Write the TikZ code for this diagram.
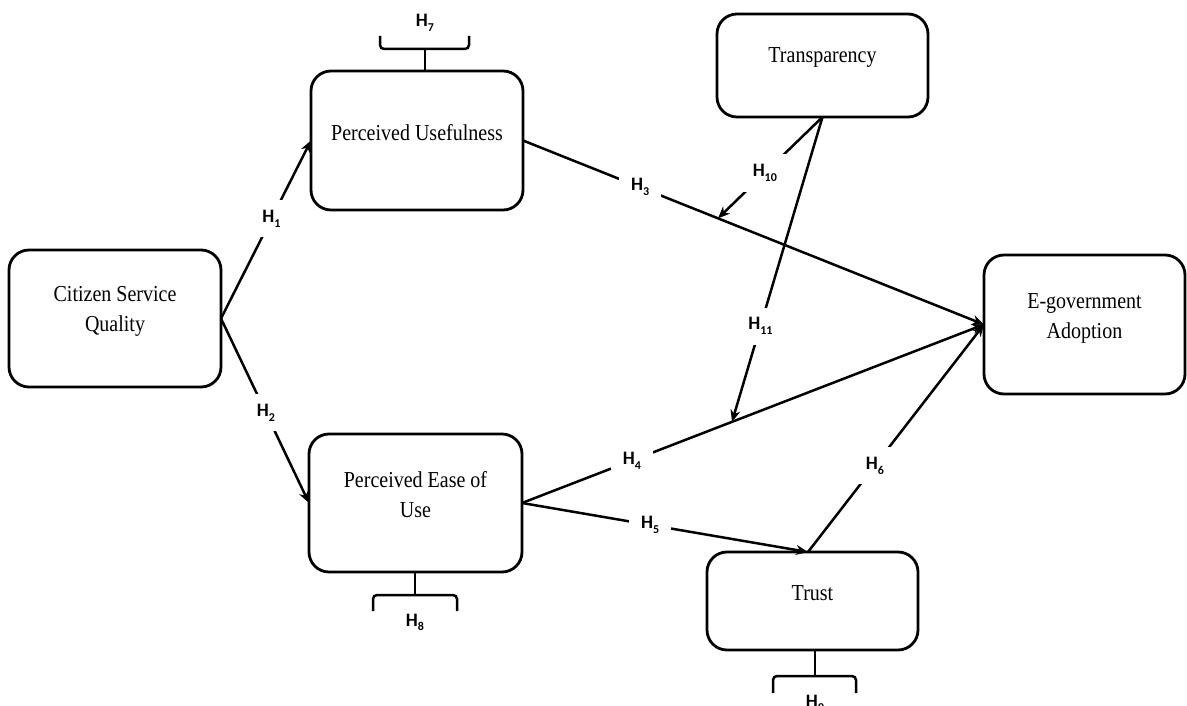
\documentclass[tikz,border=0pt]{standalone}
\usepackage{fontspec}
\setmainfont{Liberation Serif}
\newfontfamily\hfont{Carlito}
\usetikzlibrary{arrows.meta,calc}
\newcommand\Hlab[1]{{\hfont\bfseries\fontsize{19}{19}\selectfont H\raisebox{-0.25em}{\fontsize{12}{12}\selectfont #1}}}
\newcommand\tl[1]{\scalebox{1}[1.14]{#1}}
\begin{document}
\begin{tikzpicture}[x=1pt,y=-1pt,
  box/.style={draw,line width=2.8pt,rounded corners=20pt,inner sep=0pt,outer sep=0pt},
  txt/.style={font=\fontsize{20}{30}\selectfont,align=center,inner sep=0pt},
  conn/.style={line width=2.5pt,-{Stealth[length=12pt,width=10pt]}},
  plain/.style={line width=2.5pt},
  hl/.style={fill=white,inner xsep=12pt,inner ysep=10pt},
  hb/.style={inner sep=0pt},
  brk/.style={line width=2.5pt,rounded corners=4pt}]
\useasboundingbox (0,0) rectangle (1187,706);

% boxes
\node[box,minimum width=212pt,minimum height=137pt] (csq) at (115,318.5) {};
\node[box,minimum width=212pt,minimum height=139pt] (pu) at (417,140.5) {};
\node[box,minimum width=211pt,minimum height=103pt] (tr) at (822.5,65.5) {};
\node[box,minimum width=213pt,minimum height=138pt] (peou) at (415.5,503) {};
\node[box,minimum width=211pt,minimum height=98pt] (trust) at (812.5,601) {};
\node[box,minimum width=201pt,minimum height=139pt] (ega) at (1084.5,324.5) {};

% texts
\node[txt] (csqt) at (115,311) {\tl{Citizen Service}\\\tl{Quality}};
\node[txt] (put) at (417,133) {\tl{Perceived Usefulness}};
\node[txt] (trt) at (822.5,57) {\tl{Transparency}};
\node[txt] (peout) at (415.5,495) {\tl{Perceived Ease of}\\\tl{Use}};
\node[txt] (trustt) at (812.5,593) {\tl{Trust}};
\node[txt] (egat) at (1084.5,318) {\tl{E-government}\\\tl{Adoption}};

% helper points
\coordinate (tt) at ($(trust.north)+(-4.5,0)$);
\coordinate (m3) at ($(pu.east)!0.423!(ega.west)$);
\coordinate (m4) at ($(peou.east)!0.4545!(ega.west)$);

% connectors
\draw[conn] (csq.east) -- node[hl,pos=0.56] (h1) {\Hlab{1}} (pu.west);
\draw[conn] (csq.east) -- node[hl,pos=0.51] (h2) {\Hlab{2}} (peou.west);
\draw[conn] (pu.east) -- node[hl,pos=0.254] (h3) {\Hlab{3}} (ega.west);
\draw[conn] (peou.east) -- node[hl,pos=0.238] (h4) {\Hlab{4}} (ega.west);
\draw[conn] (peou.east) -- node[hl,pos=0.448] (h5) {\Hlab{5}} (tt);
\draw[conn] (tt) -- node[hl,pos=0.38] (h6) {\Hlab{6}} (ega.west);
\draw[conn] (tr.south) -- node[hl,pos=0.552,inner xsep=14pt] (h10) {\Hlab{10}} (m3);
\draw[conn] (tr.south) -- node[hl,pos=0.686] (h11) {\Hlab{11}} (m4);

% brackets
\draw[plain] (pu.north -| 425,0) -- (425,49);
\draw[brk] (380,36) -- (380,49) -- (469,49) -- (469,36);
\node[hb,anchor=base] (h7) at (425,27) {\Hlab{7}};

\draw[plain] (peou.south -| 415,0) -- (415,595);
\draw[brk] (373,611) -- (373,595) -- (457,595) -- (457,611);
\node[hb,anchor=base] (h8) at (415,626) {\Hlab{8}};

\draw[plain] (trust.south -| 815,0) -- (815,676);
\draw[brk] (773,693) -- (773,676) -- (856,676) -- (856,693);
\node[hb,anchor=base] (h9) at (815,707) {\Hlab{9}};
\end{tikzpicture}
\end{document}
